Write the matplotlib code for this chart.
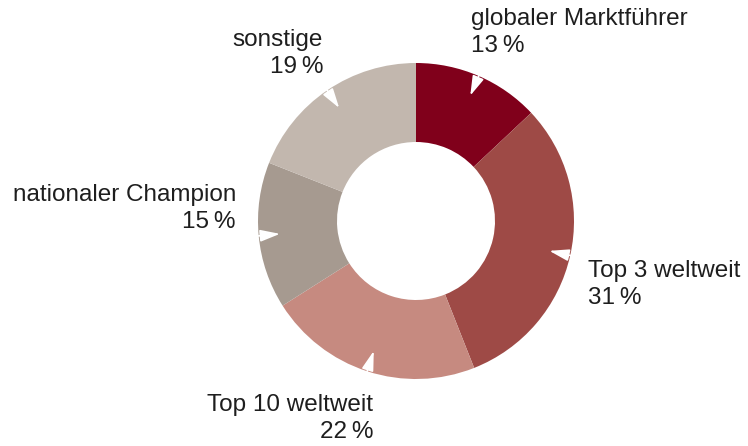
import numpy as np
import matplotlib

matplotlib.use("Agg")
import matplotlib.pyplot as plt

plt.rcParams["font.family"] = ["Liberation Sans", "DejaVu Sans"]

labels = ["globaler Marktführer", "Top 3 weltweit", "Top 10 weltweit",
          "nationaler Champion", "sonstige"]
shares = [13, 31, 22, 15, 19]
colors = ["#80001b", "#9e4a46", "#c68a80", "#a69a90", "#c2b7ae"]

# label anchor in pixels (x, y of first line centre) and alignment
label_pos = [(471, 19, "left"), (588, 271, "left"), (373, 405, "right"),
             (236, 195, "right"), (323, 40, "right")]

W, H = 748, 446
cx, cy, R = 416, 221, 158

fig = plt.figure(figsize=(W / 100, H / 100), dpi=100)
ax = fig.add_axes([0, 0, 1, 1])
ax.axis("off")

wedges, _ = ax.pie(shares, colors=colors, startangle=90, counterclock=False,
                   radius=1.0, wedgeprops=dict(width=0.5, linewidth=0))
ax.set_xlim(-cx / R, (W - cx) / R)
ax.set_ylim(-(H - cy) / R, cy / R)

for w in wedges:
    mid = np.deg2rad((w.theta1 + w.theta2) / 2)
    tip = (0.865 * np.cos(mid), 0.865 * np.sin(mid))
    tail = (1.03 * np.cos(mid), 1.03 * np.sin(mid))
    ax.annotate("", xy=tip, xytext=tail,
                arrowprops=dict(arrowstyle="-|>,head_length=1.5,head_width=0.45",
                                mutation_scale=8, color="white", lw=1.2,
                                shrinkA=0, shrinkB=0))

for lab, val, (x, y, ha) in zip(labels, shares, label_pos):
    fig.text(x / W, 1 - y / H, lab, ha=ha, va="center", fontsize=17.5, color="#1e1e1e")
    fig.text(x / W, 1 - (y + 27) / H, f"{val}\u2009%", ha=ha, va="center",
             fontsize=17.5, color="#1e1e1e")

fig.savefig("out.png", dpi=100)
